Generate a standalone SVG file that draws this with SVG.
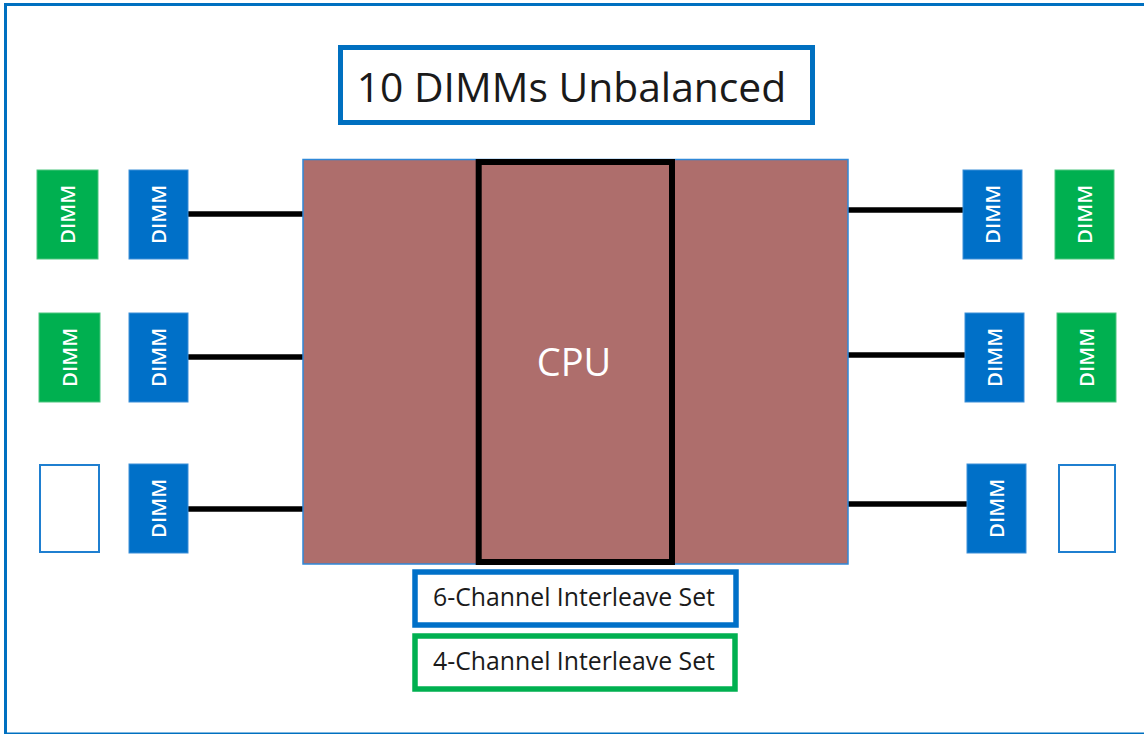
<svg xmlns="http://www.w3.org/2000/svg" width="1144" height="734" viewBox="0 0 1144 734">
  <style>
    .frame { fill: #ffffff; stroke: #0070c0; stroke-width: 3; }
    .title-box { fill: #ffffff; stroke: #0070c0; stroke-width: 5; }
    .title { font-family: "Open Sans", "Liberation Sans", sans-serif; font-size: 40.8px; fill: #1a1a1a; text-anchor: middle; }
    .cpu-body { fill: #ae6e6c; stroke: #2f88d8; stroke-width: 1.5; }
    .cpu-core { fill: #ae6e6c; stroke: #000000; stroke-width: 6; }
    .cpu-label { font-family: "Open Sans", "Liberation Sans", sans-serif; font-size: 38px; fill: #ffffff; text-anchor: middle; }
    .dimm-blue { fill: #0070c8; stroke: #3c8fd8; stroke-width: 1; }
    .dimm-green { fill: #00b050; stroke: #4cc57f; stroke-width: 1; }
    .dimm-empty { fill: #ffffff; stroke: #1f7fd0; stroke-width: 2; }
    .dimm-label { font-family: "Open Sans", "Liberation Sans", sans-serif; font-size: 20.5px; font-weight: 600; fill: #ffffff; text-anchor: middle; }
    .link { stroke: #000000; stroke-width: 5.5; fill: none; }
    .legend-blue { fill: #ffffff; stroke: #0070c8; stroke-width: 5.5; }
    .legend-green { fill: #ffffff; stroke: #00b050; stroke-width: 5.5; }
    .legend-text { font-family: "Open Sans", "Liberation Sans", sans-serif; font-size: 24.8px; fill: #1a1a1a; text-anchor: middle; }
  </style>

  <!-- outer frame -->
  <rect class="frame" x="5.5" y="4.5" width="1160" height="729.5"/>

  <!-- title -->
  <g id="title">
    <rect class="title-box" x="340.5" y="47.5" width="472" height="75"/>
    <text class="title" x="571.5" y="102">10 DIMMs Unbalanced</text>
  </g>

  <!-- connectors between DIMMs and the CPU -->
  <g id="connectors">
    <line class="link" x1="188" y1="214" x2="303" y2="214"/>
    <line class="link" x1="188" y1="357" x2="303" y2="357"/>
    <line class="link" x1="188" y1="509" x2="303" y2="509"/>
    <line class="link" x1="848" y1="210" x2="963" y2="210"/>
    <line class="link" x1="848" y1="355" x2="965" y2="355"/>
    <line class="link" x1="848" y1="504" x2="967" y2="504"/>
  </g>

  <!-- CPU -->
  <g id="cpu">
    <rect class="cpu-body" x="303" y="159.5" width="545" height="404.5"/>
    <rect class="cpu-core" x="478.7" y="162" width="193.3" height="400"/>
    <text class="cpu-label" x="574" y="376">CPU</text>
  </g>

  <!-- left side DIMM slots -->
  <g id="dimm-l1-outer">
    <rect class="dimm-green" x="37" y="170" width="61" height="89"/>
    <text class="dimm-label" transform="translate(67.5,214.5) rotate(-90)" dy="7">DIMM</text>
  </g>
  <g id="dimm-l1-inner">
    <rect class="dimm-blue" x="129" y="170" width="59" height="89"/>
    <text class="dimm-label" transform="translate(158.5,214.5) rotate(-90)" dy="7">DIMM</text>
  </g>
  <g id="dimm-l2-outer">
    <rect class="dimm-green" x="39" y="313" width="61" height="89"/>
    <text class="dimm-label" transform="translate(69.5,357.5) rotate(-90)" dy="7">DIMM</text>
  </g>
  <g id="dimm-l2-inner">
    <rect class="dimm-blue" x="129" y="313" width="59" height="89"/>
    <text class="dimm-label" transform="translate(158.5,357.5) rotate(-90)" dy="7">DIMM</text>
  </g>
  <g id="dimm-l3-outer">
    <rect class="dimm-empty" x="40" y="465" width="59" height="87"/>
  </g>
  <g id="dimm-l3-inner">
    <rect class="dimm-blue" x="129" y="464" width="59" height="89"/>
    <text class="dimm-label" transform="translate(158.5,508.5) rotate(-90)" dy="7">DIMM</text>
  </g>

  <!-- right side DIMM slots -->
  <g id="dimm-r1-inner">
    <rect class="dimm-blue" x="963" y="170" width="59" height="89"/>
    <text class="dimm-label" transform="translate(992.5,214.5) rotate(-90)" dy="7">DIMM</text>
  </g>
  <g id="dimm-r1-outer">
    <rect class="dimm-green" x="1055" y="170" width="59" height="89"/>
    <text class="dimm-label" transform="translate(1084.5,214.5) rotate(-90)" dy="7">DIMM</text>
  </g>
  <g id="dimm-r2-inner">
    <rect class="dimm-blue" x="965" y="313" width="59" height="89"/>
    <text class="dimm-label" transform="translate(994.5,357.5) rotate(-90)" dy="7">DIMM</text>
  </g>
  <g id="dimm-r2-outer">
    <rect class="dimm-green" x="1057" y="313" width="59" height="89"/>
    <text class="dimm-label" transform="translate(1086.5,357.5) rotate(-90)" dy="7">DIMM</text>
  </g>
  <g id="dimm-r3-inner">
    <rect class="dimm-blue" x="967" y="464" width="59" height="89"/>
    <text class="dimm-label" transform="translate(996.5,508.5) rotate(-90)" dy="7">DIMM</text>
  </g>
  <g id="dimm-r3-outer">
    <rect class="dimm-empty" x="1059" y="465" width="56" height="87"/>
  </g>

  <!-- interleave set legend -->
  <g id="legend-6ch">
    <rect class="legend-blue" x="415" y="572" width="321" height="53"/>
    <text class="legend-text" x="574" y="606">6-Channel Interleave Set</text>
  </g>
  <g id="legend-4ch">
    <rect class="legend-green" x="415" y="636" width="320" height="53"/>
    <text class="legend-text" x="574" y="670">4-Channel Interleave Set</text>
  </g>
</svg>
